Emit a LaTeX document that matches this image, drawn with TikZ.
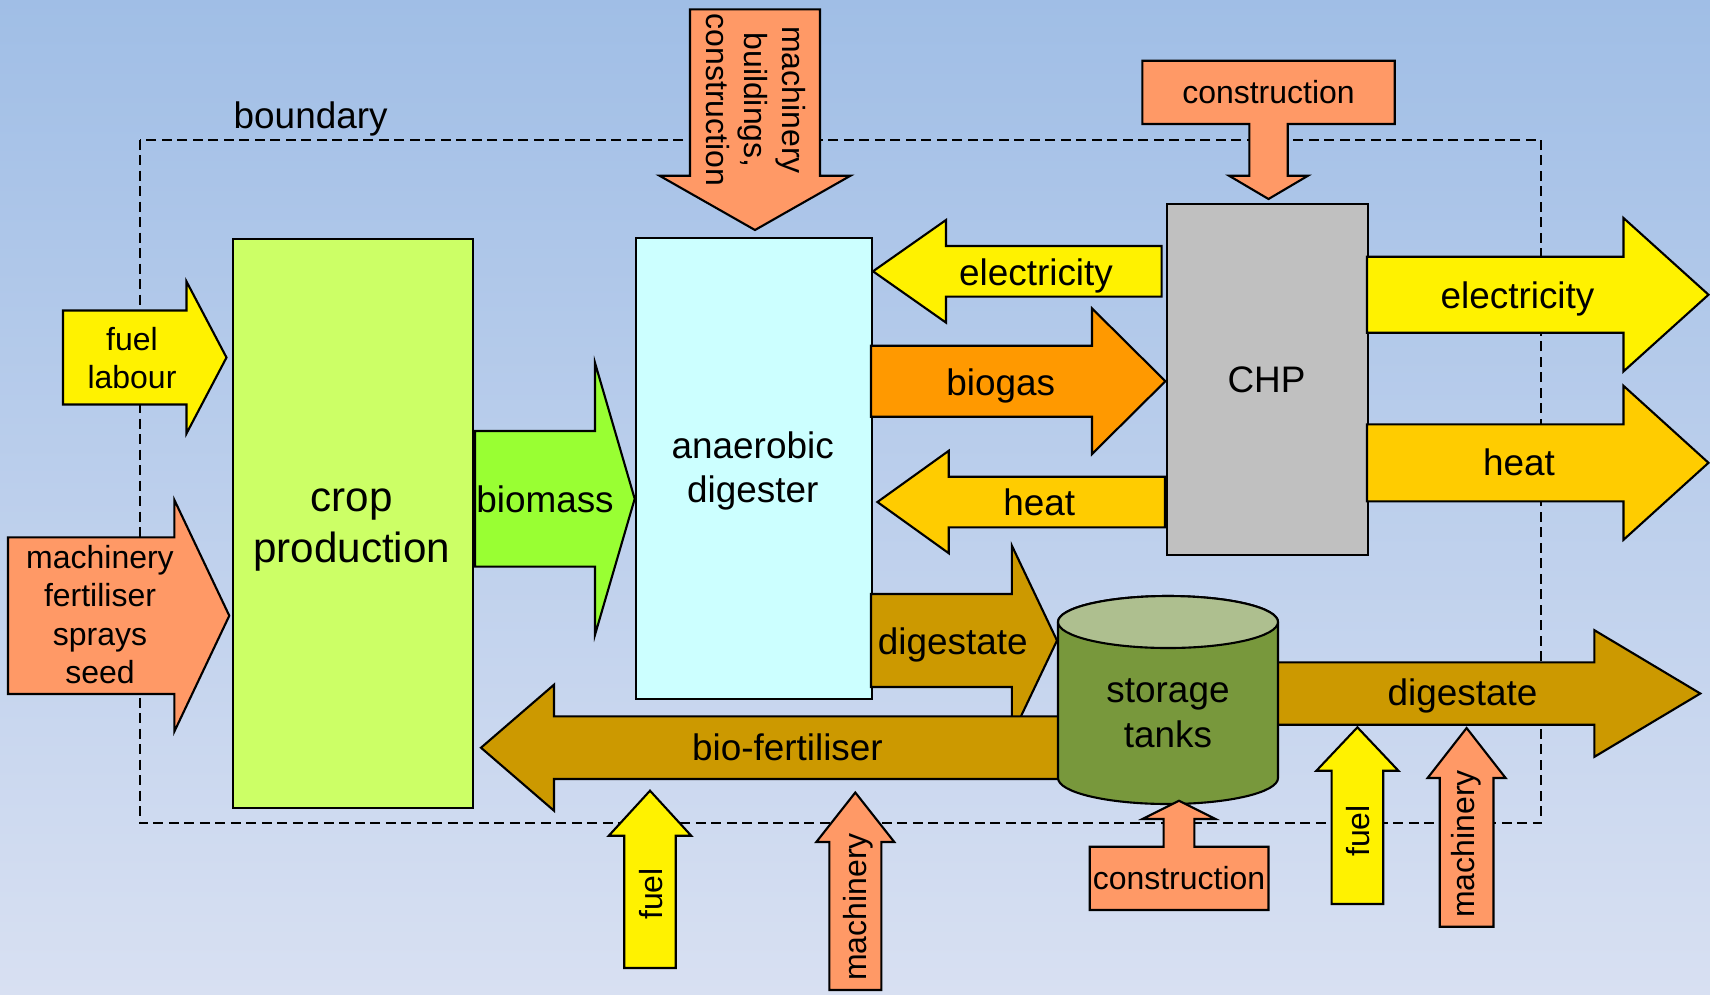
\documentclass[tikz,border=0pt]{standalone}
\usepackage{fontspec}
\setmainfont{Liberation Sans}
\usepackage{xcolor}
\definecolor{bgtop}{RGB}{160,190,230}
\definecolor{bgbot}{RGB}{216,224,242}
\definecolor{salmon}{RGB}{255,153,102}
\definecolor{cropgreen}{RGB}{204,255,102}
\definecolor{biomassgreen}{RGB}{153,255,51}
\definecolor{digcyan}{RGB}{204,255,255}
\definecolor{biogasorange}{RGB}{255,153,0}
\definecolor{heatyellow}{RGB}{255,204,0}
\definecolor{chpgrey}{RGB}{192,192,192}
\definecolor{digestbrown}{RGB}{204,153,0}
\definecolor{tankgreen}{RGB}{120,152,60}
\definecolor{tanklid}{RGB}{174,191,143}
\usepackage{tikz}
\tikzset{
	flow/.style   = {draw=black,line width=0.6pt,line join=miter},
	unit/.style   = {rectangle,draw=black,line width=0.6pt,inner sep=0pt,
		anchor=north west},
	lbl/.style    = {inner sep=0pt,align=center,anchor=base,
		font=\fontsize{10.5}{12.6}\selectfont},
	slbl/.style   = {lbl,font=\fontsize{9.1}{10.9}\selectfont},
	blbl/.style   = {lbl,font=\fontsize{12}{14.5}\selectfont},
	boundline/.style = {dash pattern=on 1mm off 0.55mm,line width=0.6pt},
}
% #1 fill, #2 tail, #3 head base, #4 tip, #5 axis, #6 half shaft, #7 half head
\newcommand{\hflow}[7]{\draw[flow,fill=#1] (#2,#5-#6) -- (#3,#5-#6) -- (#3,#5-#7)
	-- (#4,#5) -- (#3,#5+#7) -- (#3,#5+#6) -- (#2,#5+#6) -- cycle;}
\newcommand{\vflow}[7]{\draw[flow,fill=#1] (#5-#6,#2) -- (#5-#6,#3) -- (#5-#7,#3)
	-- (#5,#4) -- (#5+#7,#3) -- (#5+#6,#3) -- (#5+#6,#2) -- cycle;}

\begin{document}
\begin{tikzpicture}[x=0.1mm,y=-0.1mm]
	\shade[top color=bgtop,bottom color=bgbot] (0,0) rectangle (1710,994);
	\useasboundingbox (0,0) rectangle (1710,994);
	
	\draw[boundline] (139.6,139.6) rectangle (1541,823.4);
	\node (bnd) [lbl,anchor=base west] at (233,128) {boundary};
	
	\node (crop) [unit,fill=cropgreen,minimum width=23.95mm,minimum height=56.98mm]
		at (232,237.5) {};
	\node (dig) [unit,fill=digcyan,minimum width=23.6mm,minimum height=46.08mm]
		at (634.7,236.7) {};
	\node (chp) [unit,fill=chpgrey,minimum width=20.13mm,minimum height=35.07mm]
		at (1165.5,202.8) {};
	
	%% inputs on the left
	\hflow{yellow}{63}{186.5}{226.5}{357.5}{47}{76}
	\hflow{salmon}{8}{174.4}{229.3}{615.7}{78.3}{115.7}
	\hflow{biomassgreen}{475}{595}{634.7}{498.8}{67.8}{136}
	\vflow{salmon}{9.3}{175.7}{230}{755}{65}{95.5}
	
	%% between digester and CHP
	\hflow{yellow}{1161.6}{946}{873}{271.3}{25.3}{51.3}
	\hflow{biogasorange}{871}{1092}{1165.4}{381.2}{35.5}{72.8}
	\hflow{heatyellow}{1165}{948.7}{877.4}{502}{25.3}{51.2}
	\hflow{yellow}{1367}{1623.5}{1708.5}{294.7}{38}{76.7}
	\hflow{heatyellow}{1367}{1623.5}{1708.5}{462.8}{38.5}{77}
	\draw[flow,fill=salmon] (1142.4,60.7) -- (1394.7,60.7) -- (1394.7,124)
		-- (1287.7,124) -- (1287.7,175.7) -- (1308,175.7) -- (1268.5,199)
		-- (1229,175.7) -- (1249.3,175.7) -- (1249.3,124) -- (1142.4,124) -- cycle;
	
	%% digestate route
	\hflow{digestbrown}{871}{1011.8}{1057}{640.5}{46.5}{95}
	\hflow{digestbrown}{1100}{554}{481}{747.7}{31.3}{63}
	\hflow{digestbrown}{1200}{1594.4}{1700.3}{693.5}{31.2}{63.3}
	\filldraw[flow,fill=tankgreen] (1058,622) -- (1058,778)
		arc[start angle=180,end angle=0,x radius=110,y radius=26] -- (1278,622)
		arc[start angle=0,end angle=-180,x radius=110,y radius=26] -- cycle;
	\filldraw[flow,fill=tanklid] (1168,622) ellipse[x radius=110,y radius=26];
	\draw[flow,fill=salmon] (1089.7,910) -- (1268.5,910) -- (1268.5,846.7)
		-- (1194.4,846.7) -- (1194.4,819) -- (1215.5,819) -- (1179,800.7)
		-- (1142.5,819) -- (1163.6,819) -- (1163.6,846.7) -- (1089.7,846.7) -- cycle;
	
	%% inputs from below
	\vflow{yellow}{968}{835.7}{790.7}{650}{25.75}{41.2}
	\vflow{salmon}{990}{842}{792.5}{855.3}{26}{39}
	\vflow{yellow}{904}{770.7}{727.3}{1357.4}{25.8}{41}
	\vflow{salmon}{926.7}{778}{728}{1466.6}{26.9}{39}
	
	%% multi-line labels sit on their last baseline
	\node (croplbl) [blbl] at (351.7,562) {crop\\production};
	\node (diglbl) [lbl] at (752.7,502.7) {anaerobic\\digester};
	\node (chplbl) [lbl] at (1266.5,392) {CHP};
	\node (tanklbl) [lbl] at (1168,747) {storage\\tanks};
	
	\node (fuellab) [slbl] at (132,388.4) {fuel\\labour};
	\node (farmin) [slbl] at (100,683.3) {machinery\\fertiliser\\sprays\\seed};
	\node (biomass) [lbl] at (545,512.6) {biomass};
	\node (plantin) [slbl,anchor=center,rotate=-90] at (756,100)
		{machinery\\buildings,\\construction};
	\node (chpcon) [slbl] at (1268.5,103.3) {construction};
	\node (elecin) [lbl] at (1036,285) {electricity};
	\node (biogas) [lbl] at (1000.8,395) {biogas};
	\node (heatin) [lbl] at (1039.3,515.7) {heat};
	\node (elecout) [lbl] at (1517.5,308.3) {electricity};
	\node (heatout) [lbl] at (1519,475) {heat};
	\node (digmid) [lbl] at (952.8,654) {digestate};
	\node (biofert) [lbl] at (787.4,760.7) {bio-fertiliser};
	\node (digout) [lbl] at (1462.5,705.7) {digestate};
	\node (tankcon) [slbl] at (1179,889) {construction};
	\node (fuelA) [slbl,anchor=center,rotate=90] at (651,894) {fuel};
	\node (machA) [slbl,anchor=center,rotate=90] at (858,907) {machinery};
	\node (fuelB) [slbl,anchor=center,rotate=90] at (1358,831) {fuel};
	\node (machB) [slbl,anchor=center,rotate=90] at (1466,844) {machinery};
\end{tikzpicture}
\end{document}
